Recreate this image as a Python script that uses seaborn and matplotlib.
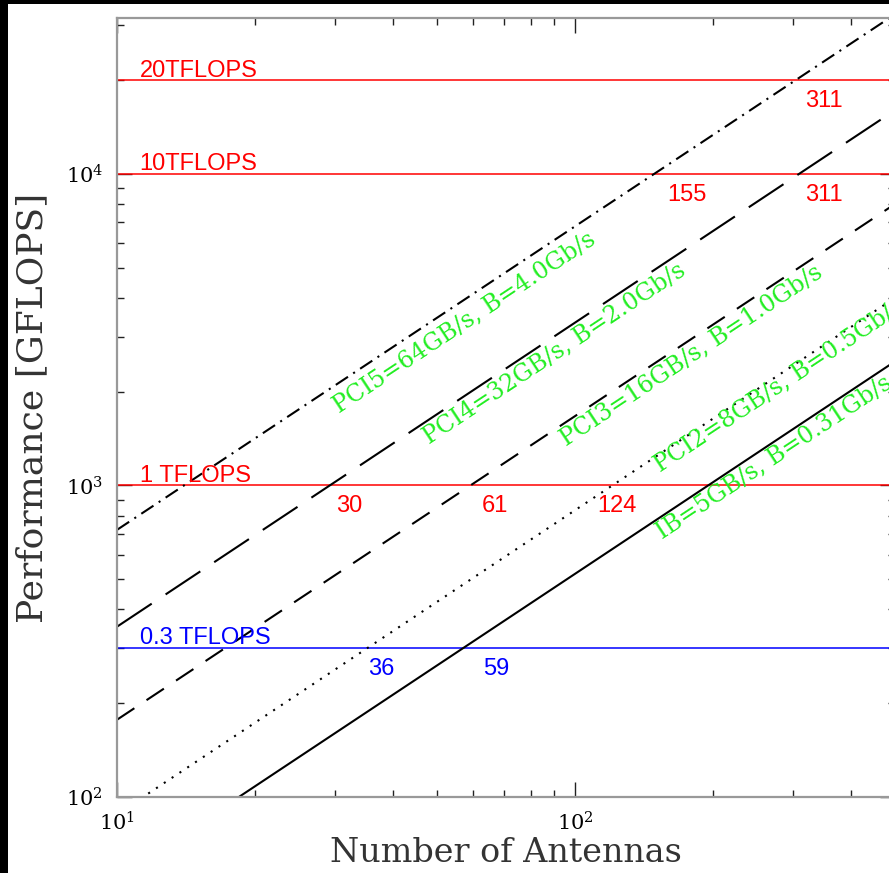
import numpy as np
import pandas as pd
import matplotlib
matplotlib.use("Agg")
import matplotlib.pyplot as plt
from matplotlib.patches import Rectangle
from matplotlib.ticker import LogLocator, FixedLocator, FixedFormatter, NullFormatter
import seaborn as sns

# ---------------- data ----------------
n_range = [10, 500]                      # antennas, endpoints of each line
perf_pci5 = [720, 32500]                 # GFLOPS
perf_pci4 = [352, 16000]
perf_pci3 = [177, 8000]
perf_pci2 = [88, 4000]
perf_ib = [55, 2500]

series_names = ["PCI5=64GB/s, B=4.0Gb/s", "PCI4=32GB/s, B=2.0Gb/s",
                "PCI3=16GB/s, B=1.0Gb/s", "PCI2=8GB/s, B=0.5Gb/s",
                "IB=5GB/s, B=0.31Gb/s"]
label_pos_n = [57.5, 90.2, 180, 280, 272.7]
label_pos_p = [3330, 2642, 2605, 2086, 1225]

red_levels = [20000, 10000, 1000]
red_level_text = ["20TFLOPS", "10TFLOPS", "1 TFLOPS"]
blue_level = 300
blue_level_text = "0.3 TFLOPS"

red_cross_n = [349, 175.6, 349, 32.2, 66.8, 123.8]
red_cross_p = [20000, 10000, 10000, 1000, 1000, 1000]
red_cross_text = ["311", "155", "311", "30", "61", "124"]
blue_cross_n = [37.8, 67.2]
blue_cross_text = ["36", "59"]

x_ticks = [10, 100]
x_ticklabels = ["$10^1$", "$10^2$"]
y_ticks = [100, 1000, 10000]
y_ticklabels = ["$10^2$", "$10^3$", "$10^4$"]

# ---------------- style ----------------
sns.set_theme(style="white")
plt.rcParams["font.family"] = ["DejaVu Sans"]
plt.rcParams["mathtext.fontset"] = "dejavuserif"

W, H = 889, 873
fig = plt.figure(figsize=(W / 100, H / 100), dpi=100)
fig.patch.set_facecolor("black")
fig.add_artist(Rectangle((8 / W, 0), 1, (H - 4) / H, transform=fig.transFigure,
                         facecolor="white", edgecolor="none", zorder=-10))

left, right, bottom, top = 117, 895, 797, 18
ax = fig.add_axes([left / W, (H - bottom) / H, (right - left) / W, (bottom - top) / H])
ax.set_facecolor("white")
ax.set_xscale("log")
ax.set_yscale("log")

line_specs = [
    (perf_pci5, (7, 3, 1, 3)),
    (perf_pci4, (20, 8)),
    (perf_pci3, (10, 7)),
    (perf_pci2, (1, 3.5)),
    (perf_ib, None),
]
for vals, dash in line_specs:
    df = pd.DataFrame({"N": n_range, "P": vals})
    sns.lineplot(data=df, x="N", y="P", ax=ax, color="black", lw=1.5,
                 estimator=None, sort=False)
    if dash is not None:
        ax.lines[-1].set_dashes(dash)

for lvl in red_levels:
    ax.axhline(lvl, color="#ff0000", lw=1.1, zorder=1)
ax.axhline(blue_level, color="#0000ff", lw=1.1, zorder=1)

ax.set_xlim(10, 500)
ax.set_ylim(100, 10 ** 4.5)

sans = "Liberation Sans"
for lvl, txt in zip(red_levels, red_level_text):
    ax.text(11.2, lvl * 1.025, txt, color="#ff0000", fontsize=17, family=sans,
            ha="left", va="baseline")
ax.text(11.2, blue_level * 1.03, blue_level_text, color="#0000ff", fontsize=17,
        family=sans, ha="left", va="baseline")

for n, p, txt in zip(red_cross_n, red_cross_p, red_cross_text):
    ax.text(n, p * 0.93, txt, color="#ff0000", fontsize=17, family=sans,
            ha="center", va="top")
for n, txt in zip(blue_cross_n, blue_cross_text):
    ax.text(n, blue_level * 0.93, txt, color="#0000ff", fontsize=17, family=sans,
            ha="center", va="top")

for n, p, txt in zip(label_pos_n, label_pos_p, series_names):
    ax.text(n, p, txt, color="#22ee22", fontsize=17, family="DejaVu Serif",
            rotation=33.5, rotation_mode="anchor", ha="center", va="center")

ax.xaxis.set_major_locator(FixedLocator(x_ticks))
ax.xaxis.set_major_formatter(FixedFormatter(x_ticklabels))
ax.yaxis.set_major_locator(FixedLocator(y_ticks))
ax.yaxis.set_major_formatter(FixedFormatter(y_ticklabels))
ax.xaxis.set_minor_locator(LogLocator(base=10, subs=np.arange(2, 10)))
ax.yaxis.set_minor_locator(LogLocator(base=10, subs=np.arange(2, 10)))
ax.xaxis.set_minor_formatter(NullFormatter())
ax.yaxis.set_minor_formatter(NullFormatter())

ax.tick_params(which="both", direction="in", top=True, right=True,
               bottom=True, left=True, colors="#222222", labelcolor="black")
ax.tick_params(which="major", length=11, width=1.0, labelsize=15, pad=10)
ax.tick_params(which="minor", length=5, width=1.0)
for lab in ax.get_xticklabels() + ax.get_yticklabels():
    lab.set_family("DejaVu Serif")

for s in ax.spines.values():
    s.set_color("#999999")
    s.set_linewidth(1.6)
    s.set_visible(True)

ax.set_xlabel("Number of Antennas", fontsize=24, family="DejaVu Serif",
              color="#333333", labelpad=2)
ax.set_ylabel("Performance [GFLOPS]", fontsize=26, family="DejaVu Serif",
              color="#333333", labelpad=12)

fig.savefig("out.png", dpi=100)
